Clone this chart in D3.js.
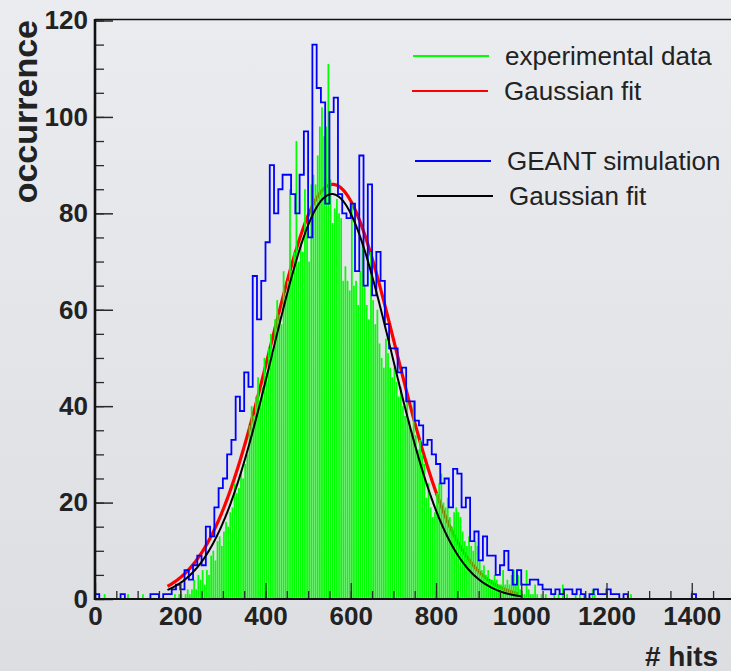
<!DOCTYPE html>
<html>
<head>
<meta charset="utf-8">
<script src="https://cdn.jsdelivr.net/npm/d3@7"></script>
<style>
  html, body { margin: 0; padding: 0; overflow: hidden; background: #e4e5e9; }
  svg { display: block; font-family: "Liberation Sans", Arial, Helvetica, sans-serif; }
</style>
</head>
<body>
<div id="chart"></div>
<script>
// experimental data histogram, 5-hit bins starting at 170
const expStart = 170;
const expBin = 5;
const expCounts = [
  0, 0, 0, 1, 0, 1, 1, 0, 1, 2,
  1, 2, 4, 2, 5, 4, 6, 3, 6, 5,
  9, 10, 8, 12, 13, 11, 14, 16, 15, 18,
  19, 24, 22, 23, 26, 25, 28, 30, 36, 40,
  38, 42, 46, 41, 44, 50, 47, 52, 55, 51,
  58, 62, 59, 57, 68, 63, 66, 85, 68, 72,
  95, 70, 74, 72, 85, 76, 70, 86, 88, 86,
  92, 98, 102, 96, 98, 111, 87, 78, 81, 83,
  80, 79, 66, 69, 66, 64, 82, 65, 66, 61,
  68, 74, 65, 61, 58, 72, 62, 57, 60, 53,
  50, 48, 54, 51, 48, 46, 48, 45, 42, 44,
  40, 38, 41, 37, 35, 41, 34, 31, 33, 30,
  28, 21, 24, 19, 17, 18, 22, 24, 26, 20,
  19, 21, 17, 15, 18, 19, 18, 17, 14, 12,
  11, 13, 11, 10, 12, 11, 8, 6, 7, 5,
  6, 4, 4, 5, 4, 3, 3, 6, 3, 4,
  3, 5, 6, 3, 5, 2, 1, 1, 6, 2,
  1, 1, 3, 1, 0, 1, 0, 1
];
// isolated entries outside the main range: [hits, count]
const expSingles = [[20, 1], [75, 1], [110, 1], [1075, 1], [1085, 1], [1095, 3], [1105, 1],
  [1125, 1], [1135, 1], [1145, 1], [1165, 2], [1170, 1], [1255, 1]];

// GEANT simulation histogram, 10-hit bins starting at 160
const simStart = 160;
const simBin = 10;
const simCounts = [
  1, 1, 2, 3, 2, 6, 4, 7, 9, 7,
  15, 13, 19, 23, 25, 30, 33, 42, 39, 47,
  44, 67, 58, 66, 74, 90, 80, 85, 88, 88,
  84, 80, 88, 97, 75, 115, 106, 103, 82, 101,
  104, 84, 80, 79, 82, 68, 92, 65, 86, 63,
  72, 66, 57, 52, 52, 47, 48, 41, 41, 37,
  36, 32, 33, 30, 28, 24, 25, 19, 27, 26,
  19, 21, 12, 14, 8, 13, 9, 9, 5, 7,
  10, 6, 3, 6, 3, 3, 4, 4, 3, 2,
  2, 1, 2, 1, 2, 2, 1, 2, 1, 0,
  1, 2, 1, 1, 2, 1, 1, 0, 1
];
const simSingles = [[0, 1], [60, 1], [130, 1], [140, 1], [1400, 1]];

// Gaussian fits: [experimental, simulation]
const fitColors = ["#ff0000", "#000000"];
const fitAmp = [86, 84];
const fitMean = [558, 556];
const fitSigma = [147, 140];
const fitFrom = [170, 170];
const fitTo = [995, 1000];

const legendLabels = ["experimental data", "Gaussian fit", "GEANT simulation", "Gaussian fit"];
const legendColors = ["#00ff00", "#ff0000", "#0000ff", "#000000"];

const xTicks = [0, 200, 400, 600, 800, 1000, 1200, 1400];
const yTicks = [0, 20, 40, 60, 80, 100, 120];

const width = 731;
const height = 671;

const x = d3.scaleLinear().domain([0, 1600]).range([95, 777]);
const y = d3.scaleLinear().domain([0, 120]).range([599, 20.5]);

const svg = d3.select("#chart").append("svg")
  .attr("width", width)
  .attr("height", height);

const defs = svg.append("defs");
const grad = defs.append("linearGradient").attr("id", "bg")
  .attr("x1", 0).attr("y1", 0).attr("x2", 0).attr("y2", 1);
grad.append("stop").attr("offset", "0%").attr("stop-color", "#ebecef");
grad.append("stop").attr("offset", "100%").attr("stop-color", "#dcdee2");

svg.append("rect").attr("width", width).attr("height", height).attr("fill", "url(#bg)");

// red fit is underneath the data bars
function fitLine(k) {
  const pts = d3.range(fitFrom[k], fitTo[k] + 0.1, 2).map(function (h) {
    const dx = h - fitMean[k];
    return [h, fitAmp[k] * Math.exp(-dx * dx / (2 * fitSigma[k] * fitSigma[k]))];
  });
  return d3.line().x(d => x(d[0])).y(d => y(d[1]))(pts);
}

svg.append("path")
  .attr("d", fitLine(0))
  .attr("fill", "none")
  .attr("stroke", fitColors[0])
  .attr("stroke-width", 3.2);

// green bars
const expData = expCounts
  .map((c, i) => ({ x0: expStart + i * expBin, c: c }))
  .concat(expSingles.map(d => ({ x0: d[0], c: d[1] })))
  .filter(d => d.c > 0);

const binPx = x(expBin) - x(0);
svg.append("g")
  .selectAll("rect")
  .data(expData)
  .join("rect")
  .attr("x", d => x(d.x0) + 0.2)
  .attr("width", binPx - 0.4)
  .attr("y", d => y(d.c))
  .attr("height", d => y(0) - y(d.c))
  .attr("fill", "#00ff00");

// blue step outline
const simMap = new Map();
simCounts.forEach((c, i) => simMap.set(simStart + i * simBin, c));
simSingles.forEach(d => simMap.set(d[0], d[1]));
const simPts = [[0, 0]];
d3.range(0, 1500, simBin).forEach(function (h) {
  const c = simMap.get(h) || 0;
  simPts.push([h, c], [h + simBin, c]);
});
simPts.push([1500, 0]);

svg.append("path")
  .attr("d", d3.line().x(d => x(d[0])).y(d => y(d[1]))(simPts))
  .attr("fill", "none")
  .attr("stroke", "#0000ff")
  .attr("stroke-width", 1.8);

svg.append("path")
  .attr("d", fitLine(1))
  .attr("fill", "none")
  .attr("stroke", fitColors[1])
  .attr("stroke-width", 2);

// ticks inside the frame
const tickCol = "#2a2a2a";
const labelStyle = g => g.selectAll("text")
  .attr("fill", "#222")
  .attr("font-size", 26)
  .attr("font-weight", "bold")
  .attr("font-family", "'Liberation Sans', Arial, sans-serif");

svg.append("g")
  .attr("transform", "translate(0," + y(0) + ")")
  .call(d3.axisBottom(x).tickValues(d3.range(50, 1600, 50)).tickSize(-8).tickFormat(""))
  .call(g => g.select(".domain").remove())
  .call(g => g.selectAll("line").attr("stroke", tickCol).attr("stroke-width", 1.3));

svg.append("g")
  .attr("transform", "translate(0," + y(0) + ")")
  .call(d3.axisBottom(x).tickValues(xTicks).tickSize(-16).tickPadding(8).tickFormat(d3.format("d")))
  .call(g => g.select(".domain").remove())
  .call(g => g.selectAll("line").attr("stroke", tickCol).attr("stroke-width", 1.3))
  .call(labelStyle);

svg.append("g")
  .attr("transform", "translate(" + x(0) + ",0)")
  .call(d3.axisLeft(y).tickValues(d3.range(0, 121, 5)).tickSize(-9).tickFormat(""))
  .call(g => g.select(".domain").remove())
  .call(g => g.selectAll("line").attr("stroke", tickCol).attr("stroke-width", 1.3));

svg.append("g")
  .attr("transform", "translate(" + x(0) + ",0)")
  .call(d3.axisLeft(y).tickValues(yTicks).tickSize(-18).tickPadding(7).tickFormat(d3.format("d")))
  .call(g => g.select(".domain").remove())
  .call(g => g.selectAll("line").attr("stroke", tickCol).attr("stroke-width", 1.5))
  .call(labelStyle);

// frame
svg.append("line")
  .attr("x1", x(0)).attr("x2", width).attr("y1", 19.5).attr("y2", 19.5)
  .attr("stroke", "#111").attr("stroke-width", 1.5);
svg.append("line")
  .attr("x1", x(0)).attr("x2", x(0)).attr("y1", 19).attr("y2", y(0) + 1)
  .attr("stroke", "#111").attr("stroke-width", 2.6);
svg.append("line")
  .attr("x1", x(0) - 1).attr("x2", width).attr("y1", y(0)).attr("y2", y(0))
  .attr("stroke", "#111").attr("stroke-width", 2);

// axis titles
svg.append("text")
  .attr("transform", "translate(37,20) rotate(-90)")
  .attr("text-anchor", "end")
  .attr("font-size", 34)
  .attr("font-weight", "bold")
  .attr("fill", "#222")
  .text("occurrence");

svg.append("text")
  .attr("x", 645)
  .attr("y", 666)
  .attr("font-size", 28)
  .attr("font-weight", "bold")
  .attr("fill", "#222")
  .text("# hits");

// legend
const legendY = [56, 91, 161, 196];
const legendX = [413, 412, 415, 417];
const legend = svg.append("g");
legendLabels.forEach(function (lab, i) {
  legend.append("line")
    .attr("x1", legendX[i]).attr("x2", legendX[i] + 76)
    .attr("y1", legendY[i]).attr("y2", legendY[i])
    .attr("stroke", legendColors[i]).attr("stroke-width", 2);
  legend.append("text")
    .attr("x", legendX[i] + 92)
    .attr("y", legendY[i] + 9)
    .attr("font-size", 26)
    .attr("fill", "#222")
    .text(lab);
});
</script>
</body>
</html>
